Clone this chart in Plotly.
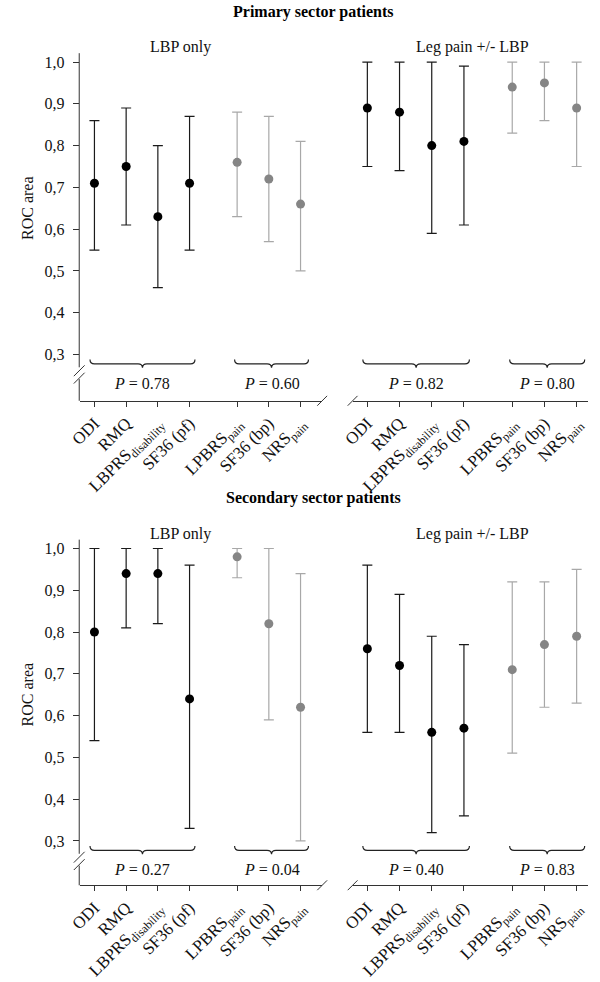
import plotly.graph_objects as go

# ---------------- data ----------------
labels = ["ODI", "RMQ", "LBPRS<sub>disability</sub>", "SF36 (pf)",
          "LPBRS<sub>pain</sub>", "SF36 (bp)", "NRS<sub>pain</sub>"]
positions = [0, 1, 2, 3, 4.5, 5.5, 6.5]

prim_lbp_auc = [0.71, 0.75, 0.63, 0.71, 0.76, 0.72, 0.66]
prim_lbp_lo = [0.55, 0.61, 0.46, 0.55, 0.63, 0.57, 0.50]
prim_lbp_hi = [0.86, 0.89, 0.80, 0.87, 0.88, 0.87, 0.81]

prim_leg_auc = [0.89, 0.88, 0.80, 0.81, 0.94, 0.95, 0.89]
prim_leg_lo = [0.75, 0.74, 0.59, 0.61, 0.83, 0.86, 0.75]
prim_leg_hi = [1.00, 1.00, 1.00, 0.99, 1.00, 1.00, 1.00]

sec_lbp_auc = [0.80, 0.94, 0.94, 0.64, 0.98, 0.82, 0.62]
sec_lbp_lo = [0.54, 0.81, 0.82, 0.33, 0.93, 0.59, 0.30]
sec_lbp_hi = [1.00, 1.00, 1.00, 0.96, 1.00, 1.00, 0.94]

sec_leg_auc = [0.76, 0.72, 0.56, 0.57, 0.71, 0.77, 0.79]
sec_leg_lo = [0.56, 0.56, 0.32, 0.36, 0.51, 0.62, 0.63]
sec_leg_hi = [0.96, 0.89, 0.79, 0.77, 0.92, 0.92, 0.95]

p_values = [["0.78", "0.60"], ["0.82", "0.80"], ["0.27", "0.04"], ["0.40", "0.83"]]
row_titles = ["Primary sector patients", "Secondary sector patients"]
panel_titles = ["LBP only", "Leg pain +/- LBP"]
y_ticks = [0.3, 0.4, 0.5, 0.6, 0.7, 0.8, 0.9, 1.0]
y_ticktext = ["0,3", "0,4", "0,5", "0,6", "0,7", "0,8", "0,9", "1,0"]

# ---------------- styling / geometry ----------------
W, H = 600, 982
FONT = "Liberation Serif, Times New Roman, serif"
BLACK = "#000000"
BLACK_BAR = "#1a1a1a"
GRAY = "#858585"
GRAY_BAR = "#a8a8a8"
AXIS = "#333333"


def fx(p):
    return p / W


def fy(p):
    return 1 - p / H


rows = [dict(top=54, y10=63, y03=360, base=407),
        dict(top=548, y10=557, y03=854, base=899)]
# panel x geometry: domain px, px of first tick, px per unit
cols = [dict(d0=70, d1=317, t0=85, unit=32.3, title_px=173),
        dict(d0=348, d1=588, t0=363, unit=32.8, title_px=470)]

panels = [
    (0, 0, prim_lbp_auc, prim_lbp_lo, prim_lbp_hi),
    (0, 1, prim_leg_auc, prim_leg_lo, prim_leg_hi),
    (1, 0, sec_lbp_auc, sec_lbp_lo, sec_lbp_hi),
    (1, 1, sec_leg_auc, sec_leg_lo, sec_leg_hi),
]

fig = go.Figure()
layout = {}
shapes = []
annotations = []

for i, (r, c, auc, lo, hi) in enumerate(panels):
    R, C = rows[r], cols[c]
    unit_y = (R["y03"] - R["y10"]) / 0.7
    yr = [0.3 - (R["base"] - R["y03"]) / unit_y, 1.0 + (R["y10"] - R["top"]) / unit_y]
    xr = [(C["d0"] - C["t0"]) / C["unit"], (C["d1"] - C["t0"]) / C["unit"]]
    xa = "x" if i == 0 else f"x{i+1}"
    ya = "y" if i == 0 else f"y{i+1}"
    xkey = "xaxis" if i == 0 else f"xaxis{i+1}"
    ykey = "yaxis" if i == 0 else f"yaxis{i+1}"

    for grp, (mc, bc) in enumerate([(BLACK, BLACK_BAR), (GRAY, GRAY_BAR)]):
        idx = range(0, 4) if grp == 0 else range(4, 7)
        xs = [positions[k] for k in idx]
        ys = [auc[k] for k in idx]
        plus = [hi[k] - auc[k] for k in idx]
        minus = [auc[k] - lo[k] for k in idx]
        fig.add_trace(go.Scatter(
            x=xs, y=ys, xaxis=xa, yaxis=ya, mode="markers",
            marker=dict(color=mc, size=9),
            error_y=dict(type="data", symmetric=False, array=plus, arrayminus=minus,
                         color=bc, thickness=1.2, width=5),
            showlegend=False, hoverinfo="skip"))

    layout[xkey] = dict(domain=[fx(C["d0"]), fx(C["d1"])], range=xr, anchor=ya,
                        showline=True, linecolor=AXIS, linewidth=1,
                        ticks="outside", ticklen=5, tickcolor=AXIS,
                        tickvals=positions, ticktext=labels, tickangle=-45,
                        tickfont=dict(family=FONT, size=17, color="#111"),
                        showgrid=False, zeroline=False, fixedrange=True)
    layout[ykey] = dict(domain=[fy(R["base"]), fy(R["top"])], range=yr, anchor=xa,
                        showline=False, showgrid=False, zeroline=False,
                        ticks="outside" if c == 0 else "", ticklen=6, tickcolor=AXIS,
                        tickvals=y_ticks, ticktext=y_ticktext,
                        showticklabels=(c == 0), ticklabelstandoff=5,
                        tickfont=dict(family=FONT, size=16, color="#111"),
                        fixedrange=True)

    # braces + P values
    px_per_unit = unit_y
    y_end = 0.3 - 5 / px_per_unit
    y_flat = 0.3 - 9.5 / px_per_unit
    y_tip = 0.3 - 13.5 / px_per_unit
    groups = [(positions[0] - 0.14, positions[3] + 0.17), (positions[4] - 0.08, positions[6] + 0.25)]
    for g, (x0, x1) in enumerate(groups):
        xm = (x0 + x1) / 2
        d = 0.14
        path = (f"M {x0},{y_end} Q {x0},{y_flat} {x0+d},{y_flat} L {xm-d},{y_flat} "
                f"Q {xm},{y_flat} {xm},{y_tip} Q {xm},{y_flat} {xm+d},{y_flat} "
                f"L {x1-d},{y_flat} Q {x1},{y_flat} {x1},{y_end}")
        shapes.append(dict(type="path", path=path, xref=xa, yref=ya,
                           line=dict(color="#222", width=1.2)))
        annotations.append(dict(x=xm, y=0.3 - 29 / px_per_unit, xref=xa, yref=ya,
                                text=f"<i>P</i> = {p_values[i][g]}", showarrow=False,
                                font=dict(family=FONT, size=16, color="#111"),
                                xanchor="center", yanchor="middle"))

    # panel title
    annotations.append(dict(x=fx(C["title_px"]), y=fy(R["top"] - 6), xref="paper", yref="paper",
                            text=panel_titles[c], showarrow=False,
                            font=dict(family=FONT, size=16, color="#111"),
                            xanchor="center", yanchor="middle"))

    # x-axis break slashes
    base = R["base"]
    xc = C["d1"] if c == 0 else C["d0"]
    shapes.append(dict(type="line", xref="paper", yref="paper",
                       x0=fx(xc - 5), y0=fy(base + 5), x1=fx(xc + 5), y1=fy(base - 5),
                       line=dict(color=AXIS, width=1)))

# y-axis lines with double-slash break, row titles, y titles
for r, R in enumerate(rows):
    ax = 69.5
    g0, g1 = R["y03"] + 13, R["y03"] + 25
    shapes.append(dict(type="line", xref="paper", yref="paper",
                       x0=fx(ax), x1=fx(ax), y0=fy(R["top"]), y1=fy(g0),
                       line=dict(color=AXIS, width=1)))
    shapes.append(dict(type="line", xref="paper", yref="paper",
                       x0=fx(ax), x1=fx(ax), y0=fy(g1), y1=fy(R["base"]),
                       line=dict(color=AXIS, width=1)))
    for cy in (R["y03"] + 16.5, R["y03"] + 24):
        shapes.append(dict(type="line", xref="paper", yref="paper",
                           x0=fx(ax - 5.5), y0=fy(cy + 5.5), x1=fx(ax + 5.5), y1=fy(cy - 5.5),
                           line=dict(color=AXIS, width=1)))
    annotations.append(dict(x=fx(308), y=fy(R["top"] - 42), xref="paper", yref="paper",
                            text=f"<b>{row_titles[r]}</b>", showarrow=False,
                            font=dict(family=FONT, size=16, color="#000"),
                            xanchor="center", yanchor="middle"))
    annotations.append(dict(x=fx(17), y=fy((R["y10"] + R["y03"]) / 2), xref="paper", yref="paper",
                            text="ROC area", textangle=-90, showarrow=False,
                            font=dict(family=FONT, size=16, color="#111"),
                            xanchor="center", yanchor="middle"))

fig.update_layout(width=W, height=H, margin=dict(l=0, r=0, t=0, b=0),
                  paper_bgcolor="white", plot_bgcolor="white",
                  shapes=shapes, annotations=annotations, **layout)

fig.write_html("out.html",
               config={"displayModeBar": False, "staticPlot": True},
               post_script="document.body.style.margin='0px';"
                           "document.body.style.overflow='hidden';")
